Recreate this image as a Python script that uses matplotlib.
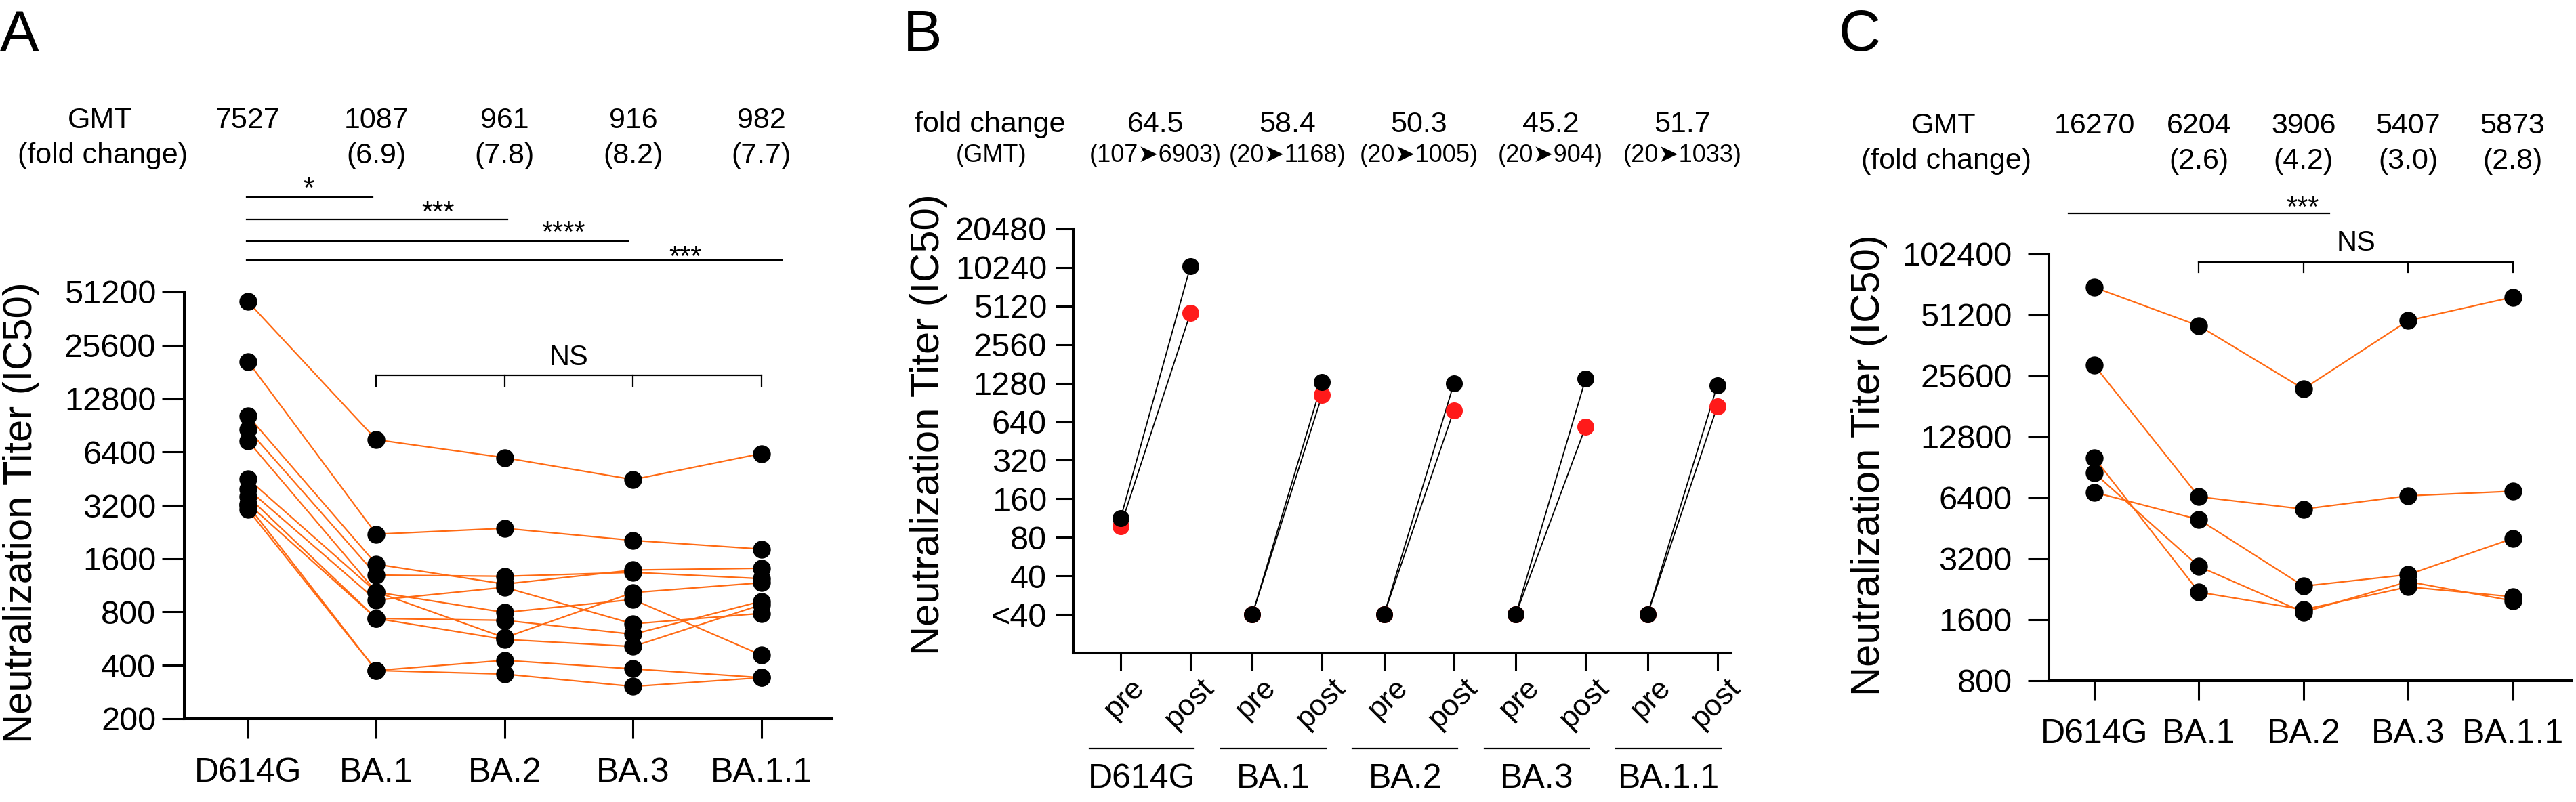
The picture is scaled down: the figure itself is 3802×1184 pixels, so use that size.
import matplotlib
matplotlib.use('Agg')
import matplotlib.pyplot as plt
from matplotlib import transforms
from matplotlib.ticker import NullLocator

plt.rcParams['font.family'] = ['Liberation Sans', 'DejaVu Sans']

# ---- data -------------------------------------------------------------
variants = ['D614G', 'BA.1', 'BA.2', 'BA.3', 'BA.1.1']

# panel A: one row per serum, one column per variant
a_titers = [
    [45100, 7510, 5940, 4470, 6270],
    [20760, 2200, 2375, 2028, 1811],
    [10240, 1488, 1150, 1381, 1413],
    [8590, 1293, 1273, 1340, 1234],
    [7400, 1037, 795, 941, 457],
    [4510, 1037, 573, 1030, 1170],
    [3950, 933, 1103, 686, 786],
    [3590, 736, 718, 599, 920],
    [3270, 736, 560, 511, 879],
    [3025, 374, 427, 382, 341],
    [3200, 374, 357, 304, 341],
]
a_gmt = [7527, 1087, 961, 916, 982]
a_fold = [None, 6.9, 7.8, 8.2, 7.7]
a_sig = ['*', '***', '****', '***']
a_yticks = [200, 400, 800, 1600, 3200, 6400, 12800, 25600, 51200]

# panel B: pre / post vaccination, two sera
b_pre_black = [113, 20, 20, 20, 20]
b_post_black = [10450, 1306, 1271, 1380, 1228]
b_pre_red = [98, 20, 20, 20, 20]
b_post_red = [4520, 1035, 786, 585, 842]
b_fold = [64.5, 58.4, 50.3, 45.2, 51.7]
b_gmt_pre = [107, 20, 20, 20, 20]
b_gmt_post = [6903, 1168, 1005, 904, 1033]
b_yticks = [20, 40, 80, 160, 320, 640, 1280, 2560, 5120, 10240, 20480]
b_ylabels = ['<40', '40', '80', '160', '320', '640', '1280', '2560', '5120', '10240', '20480']

# panel C
c_titers = [
    [70100, 45250, 22100, 48000, 62700],
    [28900, 6476, 5635, 6553, 6900],
    [6820, 5000, 2346, 2674, 4031],
    [10080, 2192, 1796, 2326, 2080],
    [8490, 2933, 1745, 2470, 1985],
]
c_gmt = [16270, 6204, 3906, 5407, 5873]
c_fold = [None, 2.6, 4.2, 3.0, 2.8]
c_yticks = [800, 1600, 3200, 6400, 12800, 25600, 51200, 102400]

# ---- layout helpers ---------------------------------------------------
W, H = 3802, 1184
fig = plt.figure(figsize=(W / 100, H / 100), dpi=100)
ORANGE = '#ff6a13'


def fx(x):
    return x / W


def fy(y):
    return 1 - y / H


def add_axes(left, right, top, bottom):
    return fig.add_axes([fx(left), fy(bottom), (right - left) / W, (bottom - top) / H])


def style(ax, ylen, xlen, ypad, xpad):
    ax.set_yscale('log', base=2)
    ax.yaxis.set_minor_locator(NullLocator())
    for s in ['top', 'right']:
        ax.spines[s].set_visible(False)
    for s in ['left', 'bottom']:
        ax.spines[s].set_linewidth(2.9)
    ax.tick_params(axis='y', length=ylen, width=2.2, labelsize=35, pad=ypad)
    ax.tick_params(axis='x', length=xlen, width=2.2, labelsize=36, pad=xpad)


def bracket(ax, x0, x1, xs, y, drop):
    T = transforms.blended_transform_factory(ax.transData, fig.transFigure)
    ax.plot([x0, x1], [fy(y), fy(y)], color='k', lw=1.6, transform=T, clip_on=False)
    for xv in xs:
        ax.plot([xv, xv], [fy(y), fy(y + drop)], color='k', lw=1.6, transform=T, clip_on=False)


# ---- panel A ----------------------------------------------------------
ax = add_axes(272, 1228, 431, 1061)
style(ax, 24, 21, 6, 20)
xs = range(len(variants))
for row in a_titers:
    ax.plot(xs, row, color=ORANGE, lw=1.6, zorder=2, clip_on=False)
    ax.plot(xs, row, 'o', color='k', ms=18, zorder=3, clip_on=False)
ax.set_ylim(200, 51200)
ax.set_xlim(-0.496, 4.55)
ax.set_yticks(a_yticks, [str(v) for v in a_yticks])
ax.set_xticks(list(xs), variants)
T = transforms.blended_transform_factory(ax.transData, fig.transFigure)
fig.text(fx(148), fy(189), 'GMT', fontsize=31, ha='center', va='baseline')
fig.text(fx(151), fy(241), '(fold change)', fontsize=31, ha='center', va='baseline')
for i, g in enumerate(a_gmt):
    ax.text(i, fy(189), str(g), fontsize=31, ha='center', va='baseline', transform=T)
    if a_fold[i] is not None:
        ax.text(i, fy(241), f'({a_fold[i]:.1f})', fontsize=31, ha='center', va='baseline', transform=T)
sig_end = [0.97, 2.02, 2.96, 4.16]
sig_y = [291, 324, 356, 384]
star_x = [0.47, 1.48, 2.46, 3.41]
star_y = [267, 302, 332, 368]
for k, lab in enumerate(a_sig):
    ax.plot([-0.01, sig_end[k]], [fy(sig_y[k])] * 2, color='k', lw=1.6, transform=T, clip_on=False)
    ax.text(star_x[k], fy(star_y[k] + 24), lab, fontsize=30, ha='center', va='baseline', transform=T)
bracket(ax, 1, 4, [1, 2, 3, 4], 554, 16)
ax.text(2.5, fy(539), 'NS', fontsize=30, ha='center', va='baseline', transform=T)
fig.text(fx(32), fy(757), 'Neutralization Titer (IC50)', fontsize=43, rotation=90,
         ha='center', va='center')
fig.text(fx(0), fy(75), 'A', fontsize=62, ha='left', va='baseline')

# ---- panel B ----------------------------------------------------------
ax = add_axes(1584, 2555, 338, 964)
style(ax, 19, 19, 9, 4)
pre_x = [i * 1.888 for i in range(len(variants))]
post_x = [p + 1 for p in pre_x]
for i in range(len(variants)):
    ax.plot([pre_x[i], post_x[i]], [b_pre_red[i], b_post_red[i]], color='k', lw=1.3, zorder=2)
    ax.plot([pre_x[i], post_x[i]], [b_pre_black[i], b_post_black[i]], color='k', lw=1.3, zorder=2)
ax.plot(pre_x + post_x, b_pre_red + b_post_red, 'o', color='#ff1a1a', ms=17, zorder=3, clip_on=False)
ax.plot(pre_x + post_x, b_pre_black + b_post_black, 'o', color='k', ms=17, zorder=4, clip_on=False)
ax.set_ylim(10, 20480)
ax.set_xlim(-0.68, 8.75)
ax.set_yticks(b_yticks, b_ylabels)
ax.set_xticks(sorted(pre_x + post_x), [''] * 10)
T = transforms.blended_transform_factory(ax.transData, fig.transFigure)
fig.text(fx(1461), fy(195), 'fold change', fontsize=31, ha='center', va='baseline')
fig.text(fx(1463), fy(239), '(GMT)', fontsize=26, ha='center', va='baseline')
for i in range(len(variants)):
    c = pre_x[i] + 0.5
    ax.text(c, fy(195), f'{b_fold[i]:.1f}', fontsize=31, ha='center', va='baseline', transform=T)
    ax.text(c, fy(239), f'({b_gmt_pre[i]}\u27a4{b_gmt_post[i]})', fontsize=26,
            ha='center', va='baseline', transform=T)
    for xv, lab in [(pre_x[i], 'pre'), (post_x[i], 'post')]:
        ax.text(xv + 0.13, fy(995), lab, fontsize=32, rotation=45, rotation_mode='anchor',
                ha='right', va='top', transform=T)
    ax.plot([pre_x[i] - 0.45, post_x[i] + 0.05], [fy(1105)] * 2, color='k', lw=1.6,
            transform=T, clip_on=False)
    ax.text(pre_x[i] + 0.3, fy(1163), variants[i], fontsize=36, ha='center', va='baseline',
            transform=T)
fig.text(fx(1370), fy(627), 'Neutralization Titer (IC50)', fontsize=43, rotation=90,
         ha='center', va='center')
fig.text(fx(1333), fy(75), 'B', fontsize=62, ha='left', va='baseline')

# ---- panel C ----------------------------------------------------------
ax = add_axes(3024, 3795, 375, 1005)
style(ax, 22, 21, 17, 19)
for row in c_titers:
    ax.plot(xs, row, color=ORANGE, lw=1.6, zorder=2, clip_on=False)
    ax.plot(xs, row, 'o', color='k', ms=18, zorder=3, clip_on=False)
ax.set_ylim(800, 102400)
ax.set_xlim(-0.435, 4.56)
ax.set_yticks(c_yticks, [str(v) for v in c_yticks])
ax.set_xticks(list(xs), variants)
T = transforms.blended_transform_factory(ax.transData, fig.transFigure)
fig.text(fx(2869), fy(197), 'GMT', fontsize=31, ha='center', va='baseline')
fig.text(fx(2872), fy(249), '(fold change)', fontsize=31, ha='center', va='baseline')
for i, g in enumerate(c_gmt):
    ax.text(i, fy(197), str(g), fontsize=31, ha='center', va='baseline', transform=T)
    if c_fold[i] is not None:
        ax.text(i, fy(249), f'({c_fold[i]:.1f})', fontsize=31, ha='center', va='baseline', transform=T)
ax.plot([-0.25, 2.25], [fy(315)] * 2, color='k', lw=1.6, transform=T, clip_on=False)
ax.text(1.99, fy(295 + 24), '***', fontsize=30, ha='center', va='baseline', transform=T)
bracket(ax, 1, 4, [1, 2, 3, 4], 387, 15)
ax.text(2.5, fy(370), 'NS', fontsize=30, ha='center', va='baseline', transform=T)
fig.text(fx(2758), fy(687), 'Neutralization Titer (IC50)', fontsize=43, rotation=90,
         ha='center', va='center')
fig.text(fx(2714), fy(75), 'C', fontsize=62, ha='left', va='baseline')

fig.savefig('out.png', dpi=100)
